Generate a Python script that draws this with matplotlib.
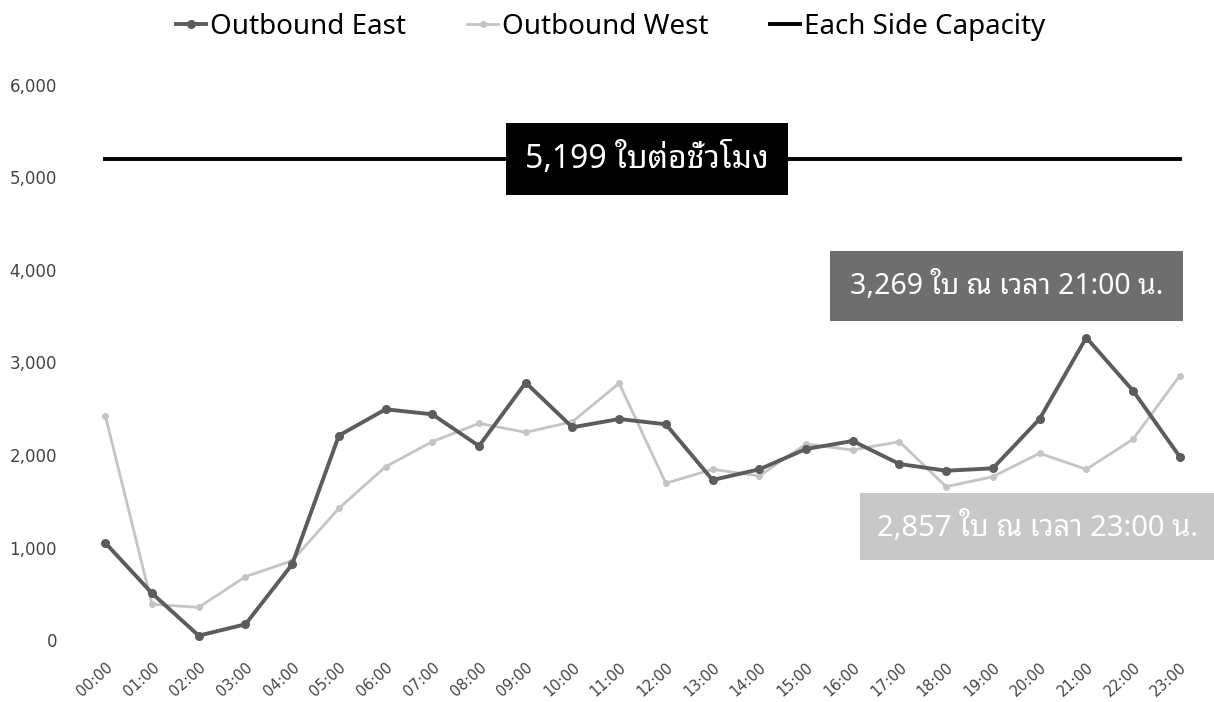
import numpy as np
import matplotlib
matplotlib.use("Agg")
import matplotlib.pyplot as plt
from matplotlib.ticker import FuncFormatter

# latin glyphs from Noto Sans, thai glyphs fall back to the looped face
plt.rcParams['font.family'] = ['Noto Sans', 'Noto Sans Thai Looped', 'DejaVu Sans']

hours = ['00:00', '01:00', '02:00', '03:00', '04:00', '05:00', '06:00', '07:00',
         '08:00', '09:00', '10:00', '11:00', '12:00', '13:00', '14:00', '15:00',
         '16:00', '17:00', '18:00', '19:00', '20:00', '21:00', '22:00', '23:00']

outbound_east = [1050, 505, 47, 170, 818, 2210, 2494, 2440,
                 2097, 2782, 2299, 2389, 2332, 1730, 1845, 2065,
                 2151, 1903, 1830, 1856, 2389, 3269, 2695, 1982]

outbound_west = [2425, 386, 353, 685, 857, 1423, 1874, 2144,
                 2342, 2245, 2360, 2775, 1694, 1845, 1773, 2119,
                 2054, 2144, 1657, 1766, 2018, 1845, 2170, 2857]

capacity = 5199

fig = plt.figure(figsize=(12.14, 7.02), dpi=100)
ax = fig.add_axes([0.0675, 0.0883, 0.9235, 0.7907])

x = np.arange(len(hours))

ax.plot(x, outbound_east, color='#5c5c5c', lw=2.8, marker='o', ms=5.5,
        label='Outbound East', zorder=3)
ax.plot(x, outbound_west, color='#c4c4c4', lw=2.0, marker='o', ms=4,
        label='Outbound West', zorder=2)
ax.plot(x, [capacity] * len(hours), color='black', lw=2.8,
        label='Each Side Capacity', zorder=2)

ax.set_xlim(-0.5, len(hours) - 0.5)
ax.set_ylim(0, 6000)
ax.set_yticks(np.arange(0, 6001, 1000))
ax.yaxis.set_major_formatter(FuncFormatter(lambda v, p: f'{int(v):,}'))
ax.set_xticks(x)
ax.set_xticklabels(hours, rotation=42, ha='right', rotation_mode='anchor')

for spine in ax.spines.values():
    spine.set_visible(False)
ax.tick_params(axis='both', length=0, colors='#444444', labelfontfamily='DejaVu Sans')
ax.tick_params(axis='y', pad=18, labelsize=12)
ax.tick_params(axis='x', pad=14, labelsize=10.5)

# value callouts
ax.text(11.6, capacity, f'{capacity:,} ใบต่อชั่วโมง', color='white', fontsize=23,
        ha='center', va='center', zorder=5,
        bbox=dict(boxstyle='square,pad=0.6', fc='black', ec='none'))
ax.text(19.3, 3827, f'{outbound_east[21]:,} ใบ ณ เวลา {hours[21]} น.', color='white',
        fontsize=20.5, ha='center', va='center', zorder=5, clip_on=False,
        bbox=dict(boxstyle='square,pad=0.7', fc='#6e6e6e', ec='none'))
ax.text(19.96, 1222, f'{outbound_west[23]:,} ใบ ณ เวลา {hours[23]} น.', color='white',
        fontsize=21, ha='center', va='center', zorder=5, clip_on=False,
        bbox=dict(boxstyle='square,pad=0.6', fc='#c8c8c8', ec='none'))

fig.legend(loc='center', bbox_to_anchor=(0.503, 0.962), ncol=3, frameon=False,
           fontsize=20, handlelength=1.1, handletextpad=0.15, columnspacing=2.2)

fig.savefig('out.png', dpi=100)
